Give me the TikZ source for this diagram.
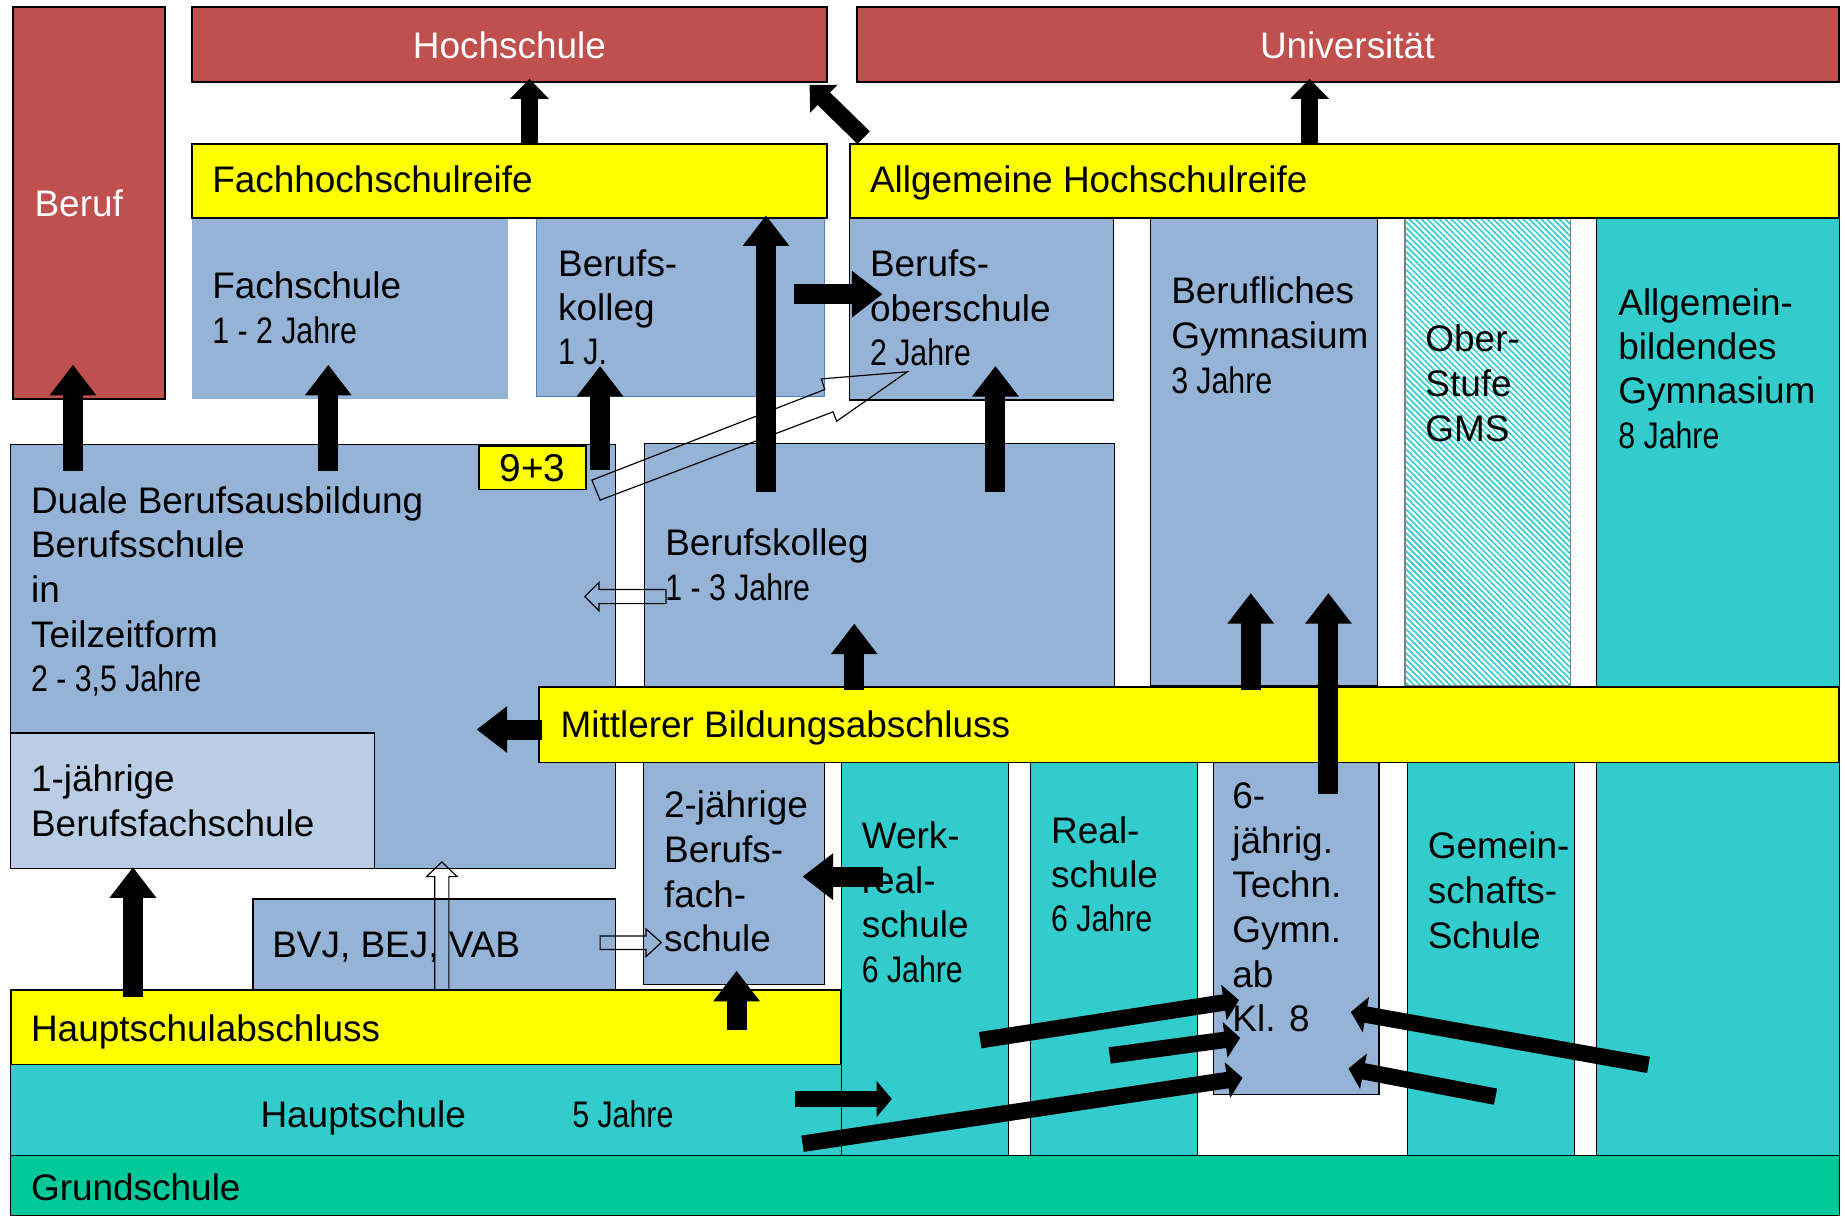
\documentclass[tikz,border=0pt]{standalone}
\usepackage{fontspec}
\setmainfont{Liberation Sans}
\newfontfamily\schmal[FakeStretch=0.82]{Liberation Sans}
\usepackage{tikz}
\usetikzlibrary{arrows.meta}
\usetikzlibrary{fit,patterns.meta}

\definecolor{rot}{HTML}{C0504D}
\definecolor{gelb}{HTML}{FFFF00}
\definecolor{blau}{HTML}{95B3D7}
\definecolor{hellblau}{HTML}{B9CDE5}
\definecolor{tuerkis}{HTML}{33CCCC}
\definecolor{gruen}{HTML}{00C999}
\definecolor{blaurand}{HTML}{4F81BD}

\begin{document}
\begin{tikzpicture}[x=0.5pt,y=-0.5pt,
    feld/.style={inner sep=0pt, outer sep=0pt, draw=black, line width=0.5pt, fill=blau},
    rotfeld/.style={feld, fill=rot, line width=0.8pt},
    gelbfeld/.style={feld, fill=gelb, line width=0.8pt},
    tfeld/.style={feld, fill=tuerkis},
    txt/.style={anchor=base west, inner sep=0pt, font=\fontsize{15.7}{19}\selectfont},
    mitte/.style={txt, anchor=base},
    jahre/.style={txt, font=\schmal\fontsize{15.7}{19}\selectfont},
    dick/.style={line width=8.5pt, -{Triangle[length=13pt,width=19pt]}},
    klein/.style={line width=7.5pt, -{Triangle[length=8.5pt,width=16pt]}},
    flach/.style={line width=7pt, -{Triangle[length=6.5pt,width=15pt]}},
    hohl/.style={draw=black, line width=0.5pt}]
    \useasboundingbox (0,0) rectangle (1568,1035);

    % Saeulen
    \node[rotfeld, fit={(11,6) (140,339)}] (beruf) {};
    \node[rotfeld, fit={(163,6) (703,70)}] (hochschule) {};
    \node[rotfeld, fit={(728,6) (1563,70)}] (uni) {};
    \node[feld, draw=none, fit={(163,185) (432,339)}] (fachschule) {};
    \node[feld, draw=blaurand, fit={(456,184) (701,337)}] (bk1) {};
    \node[feld, fit={(722,185) (946,340)}] (bos) {};
    \node[feld, fit={(978,185) (1171,583)}] (bgym) {};
    \node[feld, fill=none, draw=gray, pattern={Lines[angle=-45,distance=1.8pt,line width=0.7pt]}, pattern color=tuerkis, fit={(1194,185) (1335,583)}] (oberstufe) {};
    \node[tfeld, fit={(1357,185) (1563,982)}] (agym) {};
    \node[feld, fit={(9,378) (523,738)}] (duale) {};
    \node[feld, fill=hellblau, fit={(9,623) (318,738)}] (bfs1) {};
    \node[gelbfeld, fit={(407,379) (498,416)}] (neundrei) {};
    \node[feld, fit={(548,377) (947,584)}] (bk3) {};
    \node[feld, fit={(547,648) (701,837)}] (bfs2) {};
    \node[tfeld, fit={(715,648) (857,982)}] (wrs) {};
    \node[tfeld, fit={(876,648) (1018,982)}] (rs) {};
    \node[feld, fit={(1031,648) (1172,930)}] (tgym) {};
    \node[tfeld, fit={(1196,648) (1338,982)}] (gms) {};
    \node[feld, fit={(215,764) (523,841)}] (bvj) {};
    \node[gelbfeld, fit={(9,841) (715,905)}] (hsa) {};
    \node[tfeld, fit={(9,905) (715,982)}] (hs) {};
    \node[feld, fill=gruen, fit={(9,982) (1563,1033)}] (gs) {};
    \node[gelbfeld, fit={(458,584) (1563,648)}] (mba) {};
    \node[gelbfeld, fit={(163,122) (703,185)}] (fhr) {};
    \node[gelbfeld, fit={(722,122) (1563,185)}] (ahr) {};

    % Texte
    \node[mitte, text=white] (t-hochschule) at (433,50) {Hochschule};
    \node[mitte, text=white] (t-uni) at (1145,50) {Universität};
    \node[mitte, font=\fontsize{16.5}{19}\selectfont] (t-neundrei) at (452.5,409) {9+3};
    \node[txt, text=white] (t-beruf) at (29,184) {Beruf};
    \node[txt] (t-fhr) at (180,164) {Fachhochschulreife};
    \node[txt] (t-ahr) at (739,164) {Allgemeine Hochschulreife};
    \node[txt] (t-fs) at (180,254) {Fachschule};
    \node[jahre] (j-fs) at (180,292) {1 - 2 Jahre};
    \node[txt] (t-bk1a) at (474,235) {Berufs-};
    \node[txt] (t-bk1b) at (474,272) {kolleg};
    \node[jahre] (j-bk1) at (474,310) {1 J.};
    \node[txt] (t-bosa) at (739,235) {Berufs-};
    \node[txt] (t-bosb) at (739,273) {oberschule};
    \node[jahre] (j-bos) at (739,311) {2 Jahre};
    \node[txt] (t-bgyma) at (995,258) {Berufliches};
    \node[txt] (t-bgymb) at (995,296) {Gymnasium};
    \node[jahre] (j-bgym) at (995,334) {3 Jahre};
    \foreach \z [count=\i from 0] in {Ober-,Stufe,GMS}
        \node[txt] (t-ost\i) at (1211,{299+38*\i}) {\z};
    \foreach \z [count=\i from 0] in {Allgemein-,bildendes,Gymnasium}
        \node[txt] (t-agym\i) at (1375,{268+37.5*\i}) {\z};
    \node[jahre] (j-agym) at (1375,381) {8 Jahre};
    \foreach \z [count=\i from 0] in {Duale Berufsausbildung,Berufsschule,in,Teilzeitform}
        \node[txt] (t-duale\i) at (26,{436+38*\i}) {\z};
    \node[jahre] (j-duale) at (26,588) {2 - 3,5 Jahre};
    \node[txt] (t-bfs1a) at (26,673) {1-jährige};
    \node[txt] (t-bfs1b) at (26,711) {Berufsfachschule};
    \node[txt] (t-bk3) at (565,472) {Berufskolleg};
    \node[jahre] (j-bk3) at (565,510) {1 - 3 Jahre};
    \node[txt] (t-mba) at (476,627) {Mittlerer Bildungsabschluss};
    \foreach \z [count=\i from 0] in {2-jährige,Berufs-,fach-,schule}
        \node[txt] (t-bfs2\i) at (564,{695+38*\i}) {\z};
    \foreach \z [count=\i from 0] in {Werk-,real-,schule}
        \node[txt] (t-wrs\i) at (732,{721+38*\i}) {\z};
    \node[jahre] (j-wrs) at (732,835) {6 Jahre};
    \node[txt] (t-rsa) at (893,717) {Real-};
    \node[txt] (t-rsb) at (893,754) {schule};
    \node[jahre] (j-rs) at (893,792) {6 Jahre};
    \foreach \z [count=\i from 0] in {6-,jährig.,Techn.,Gymn.,ab,Kl. 8}
        \node[txt] (t-tgym\i) at (1047,{687+38*\i}) {\z};
    \foreach \z [count=\i from 0] in {Gemein-,schafts-,Schule}
        \node[txt] (t-gms\i) at (1213,{730+38*\i}) {\z};
    \node[txt] (t-bvj) at (231,814) {BVJ, BEJ, VAB};
    \node[txt] (t-hsa) at (26,885) {Hauptschulabschluss};
    \node[txt] (t-hs) at (221,958) {Hauptschule};
    \node[jahre] (j-hs) at (486,958) {5 Jahre};
    \node[txt] (t-gs) at (26,1020) {Grundschule};

    % Pfeilpunkte
    \coordinate (duale-beruf) at (62,400);    \coordinate (beruf-ein) at (62,310);
    \coordinate (duale-fs) at (279,400);      \coordinate (fs-ein) at (279,310);
    \coordinate (duale-bk1) at (510,399);     \coordinate (bk1-ein) at (510,311);
    \coordinate (fhr-hs) at (450,123);        \coordinate (hs-ein) at (450,67);
    \coordinate (ahr-hs) at (734,117);        \coordinate (hs-ein2) at (688,72);
    \coordinate (ahr-uni) at (1113,123);      \coordinate (uni-ein) at (1113,67);
    \coordinate (bk3-fhr) at (651,418);       \coordinate (fhr-ein) at (651,183);
    \coordinate (bk1-bos) at (675,250);       \coordinate (bos-ein) at (750,250);
    \coordinate (bk3-bos) at (846,418);       \coordinate (bos-ein2) at (846,311);
    \coordinate (mba-bk3) at (726,586);       \coordinate (bk3-ein) at (726,530);
    \coordinate (mba-duale) at (461,620);     \coordinate (duale-ein) at (405,620);
    \coordinate (mba-bgym) at (1063,586);     \coordinate (bgym-ein) at (1063,504);
    \coordinate (tgym-bgym) at (1129,675);    \coordinate (bgym-ein2) at (1129,504);
    \coordinate (wrs-bfs2) at (750,745);      \coordinate (bfs2-ein) at (682,745);
    \coordinate (hsa-bfs1) at (113,847);      \coordinate (bfs1-ein) at (113,737);
    \coordinate (hsa-bfs2) at (626,875);      \coordinate (bfs2-ein2) at (626,825);
    \coordinate (hs-wrs) at (676,934);        \coordinate (wrs-ein) at (758,934);
    \coordinate (hs-tgym) at (682,972);       \coordinate (tgym-ein1) at (1056,916);
    \coordinate (wrs-tgym) at (833,884);      \coordinate (tgym-ein2) at (1053,850);
    \coordinate (rs-tgym) at (943,897);       \coordinate (tgym-ein3) at (1054,882);
    \coordinate (agym-tgym) at (1401,905);    \coordinate (tgym-ein4) at (1148,860);
    \coordinate (gms-tgym) at (1271,932);     \coordinate (tgym-ein5) at (1146,908);
    \coordinate (bk3-duale) at (566,507);
    \coordinate (hsa-duale) at (375.5,841);
    \coordinate (bvj-bfs2) at (510,801);
    \coordinate (neundrei-bos) at (503,408);  \coordinate (bos-spitze) at (771,316);

    \draw[hohl] (neundrei-bos) -- (701,331) -- (698,322) -- (bos-spitze) -- (711,358) -- (708,350) -- (510,425) -- cycle;
    \draw[hohl] (bk3-duale) ++(0,-6) -- ++(-57,0) -- ++(0,-6) -- ++(-12,12) -- ++(12,12) -- ++(0,-6) -- ++(57,0) -- cycle;
    \draw[hohl] (hsa-duale) ++(-6,0) -- ++(0,-96) -- ++(-7,0) -- ++(13,-12.5) -- ++(13,12.5) -- ++(-7,0) -- ++(0,96) -- cycle;
    \draw[hohl] (bvj-bfs2) ++(0,-5.5) -- ++(39,0) -- ++(0,-6) -- ++(13,11.5) -- ++(-13,12) -- ++(0,-6) -- ++(-39,0) -- cycle;

    \draw[dick] (duale-beruf) -- (beruf-ein);
    \draw[dick] (duale-fs) -- (fs-ein);
    \draw[dick] (duale-bk1) -- (bk1-ein);
    \draw[klein] (fhr-hs) -- (hs-ein);
    \draw[klein] (ahr-hs) -- (hs-ein2);
    \draw[klein] (ahr-uni) -- (uni-ein);
    \draw[dick] (bk3-fhr) -- (fhr-ein);
    \draw[dick] (bk1-bos) -- (bos-ein);
    \draw[dick] (bk3-bos) -- (bos-ein2);
    \draw[dick] (mba-bk3) -- (bk3-ein);
    \draw[dick] (mba-duale) -- (duale-ein);
    \draw[dick] (mba-bgym) -- (bgym-ein);
    \draw[dick] (tgym-bgym) -- (bgym-ein2);
    \draw[dick] (wrs-bfs2) -- (bfs2-ein);
    \draw[dick] (hsa-bfs1) -- (bfs1-ein);
    \draw[dick] (hsa-bfs2) -- (bfs2-ein2);
    \draw[flach] (hs-wrs) -- (wrs-ein);
    \draw[flach] (hs-tgym) -- (tgym-ein1);
    \draw[flach] (wrs-tgym) -- (tgym-ein2);
    \draw[flach] (rs-tgym) -- (tgym-ein3);
    \draw[flach] (agym-tgym) -- (tgym-ein4);
    \draw[flach] (gms-tgym) -- (tgym-ein5);
\end{tikzpicture}
\end{document}
